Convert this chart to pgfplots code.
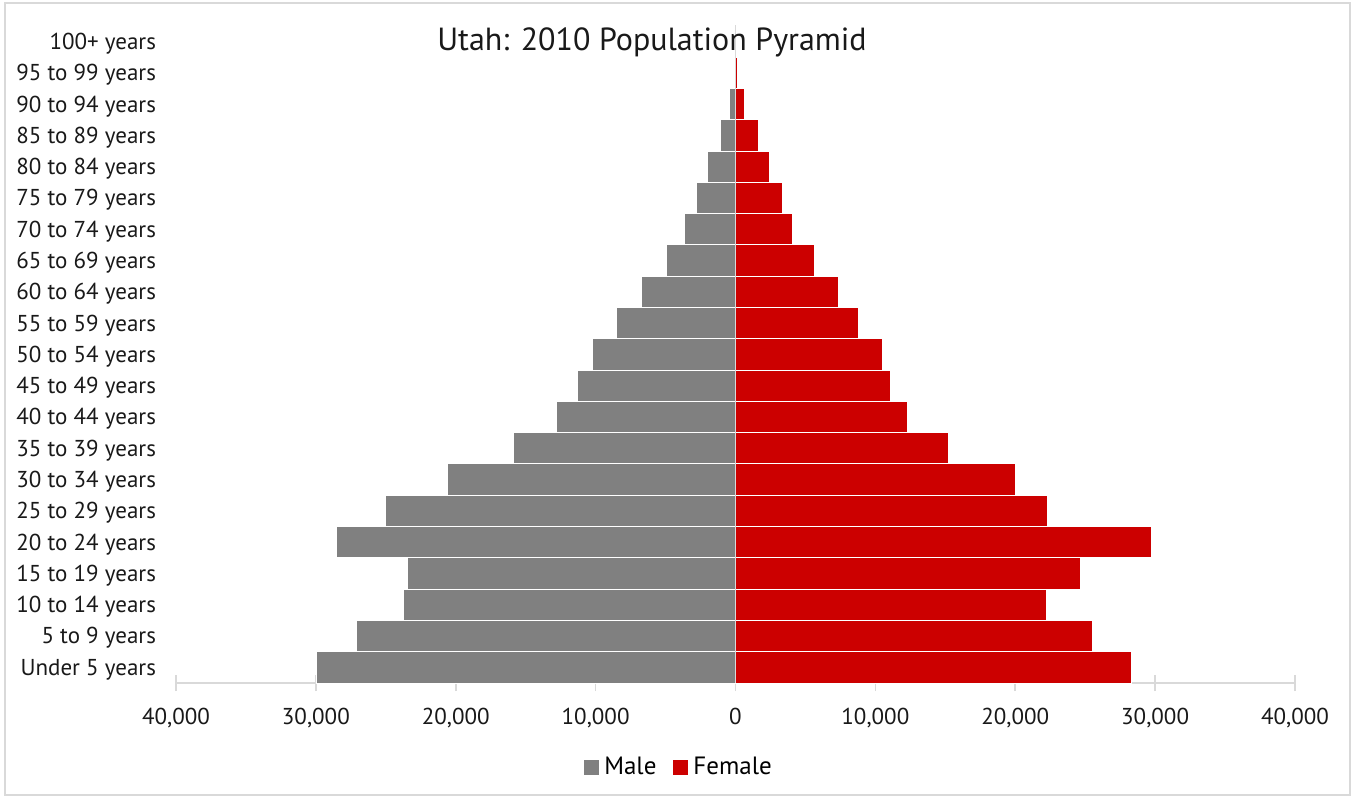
\documentclass[border=0pt]{standalone}
\usepackage{fontspec}
\setmainfont{PT Sans}
\usepackage{pgfplots}
\pgfplotsset{compat=1.18}
\definecolor{malegray}{HTML}{808080}
\definecolor{femred}{HTML}{CC0000}
\definecolor{axgray}{HTML}{D9D9D9}
\begin{document}
\begin{tikzpicture}
% 1 px of the reference = 0.5pt
\useasboundingbox (0pt,0pt) rectangle (677pt,399pt);
\draw[axgray,line width=0.8pt] (2.5pt,1.5pt) rectangle (675pt,397.5pt);
\begin{axis}[
    at={(88pt,57.5pt)}, anchor=south west,
    scale only axis,
    width=559.5pt, height=328.5pt,
    xbar, bar shift=0pt, bar width=1,
    xmin=-40000, xmax=40000,
    ymin=-0.5, ymax=20.5,
    axis x line*=bottom, axis y line*=left,
    x axis line style={axgray, line width=0.8pt},
    y axis line style={draw=none},
    scaled x ticks=false,
    xtick={-40000,-30000,...,40000},
    xticklabels={{40,000},{30,000},{20,000},{10,000},0,{10,000},{20,000},{30,000},{40,000}},
    xtick align=center, major tick length=8pt,
    xtick style={axgray, line width=0.8pt},
    ytick style={draw=none},
    ytick={0,...,20},
    yticklabels={Under 5 years,5 to 9 years,10 to 14 years,15 to 19 years,20 to 24 years,
        25 to 29 years,30 to 34 years,35 to 39 years,40 to 44 years,45 to 49 years,
        50 to 54 years,55 to 59 years,60 to 64 years,65 to 69 years,70 to 74 years,
        75 to 79 years,80 to 84 years,85 to 89 years,90 to 94 years,95 to 99 years,100+ years},
    ticklabel style={font=\fontsize{11.5}{13}\selectfont, text=black!90},
    yticklabel style={xshift=1.5pt, yshift=-1pt},
    xticklabel style={yshift=-5pt},
    legend style={at={(0.45,-0.128)}, anchor=center, draw=none,
        legend columns=2, font=\fontsize{12.5}{15}\selectfont,
        /tikz/every even column/.append style={column sep=6pt}},
    legend image code/.code={\fill[#1] (0pt,-4pt) rectangle (8pt,4pt);},
]
\addplot[fill=malegray, draw=white, line width=0.5pt] coordinates {
    (-29950,0) (-27090,1) (-23730,2) (-23450,3) (-28520,4) (-25020,5) (-20590,6)
    (-15870,7) (-12800,8) (-11290,9) (-10220,10) (-8510,11) (-6720,12) (-4930,13)
    (-3650,14) (-2790,15) (-2000,16) (-1070,17) (-430,18) (-50,19) (-5,20)
};
\addplot[fill=femred, draw=white, line width=0.5pt] coordinates {
    (28300,0) (25520,1) (22230,2) (24660,3) (29740,4) (22300,5) (20010,6)
    (15230,7) (12300,8) (11080,9) (10510,10) (8790,11) (7360,12) (5650,13)
    (4070,14) (3360,15) (2430,16) (1640,17) (640,18) (140,19) (10,20)
};
\legend{Male, Female}
\draw[axgray, line width=0.8pt] (axis cs:0,-0.5) -- (axis cs:0,20.85);
\end{axis}
\node[font=\fontsize{16}{19}\selectfont, text=black!90] at (326pt,378pt) {Utah: 2010 Population Pyramid};
\end{tikzpicture}
\end{document}
